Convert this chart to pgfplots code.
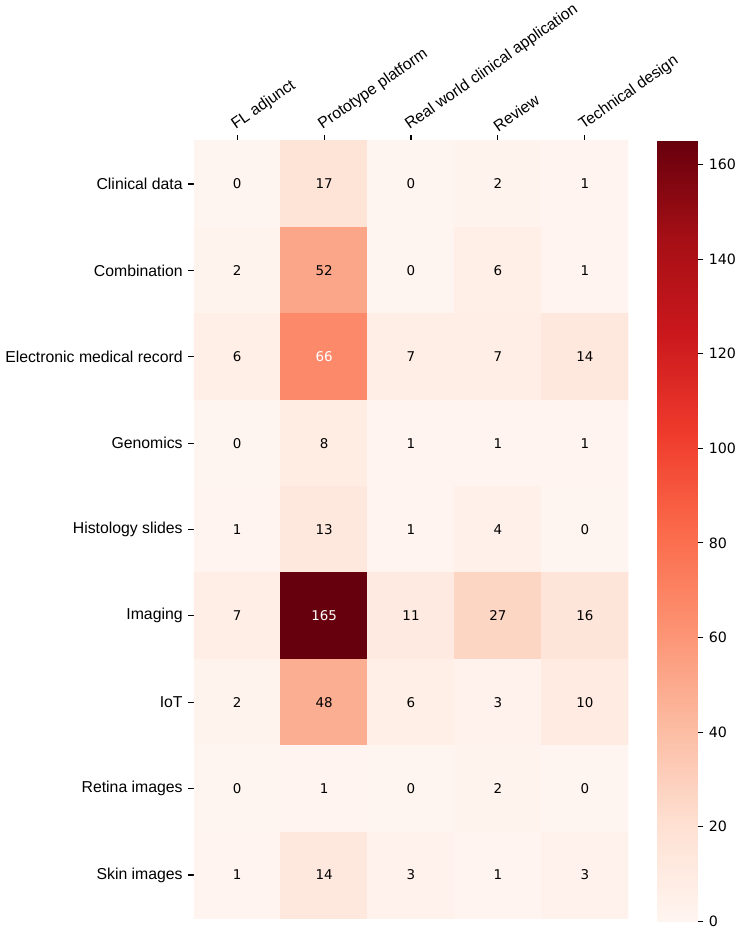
\documentclass[border=0pt]{standalone}
\usepackage{pgfplots}
\pgfplotsset{compat=1.18}
\usepackage{pgfplotstable}
\usepackage{fontspec}
\setmainfont{Liberation Sans}
\newfontfamily\dejavu{DejaVu Sans}

% matplotlib "Reds"
\pgfplotsset{colormap={reds}{rgb255=(255,245,240) rgb255=(254,224,210)
  rgb255=(252,187,161) rgb255=(252,146,114) rgb255=(251,106,74)
  rgb255=(239,59,44) rgb255=(203,24,29) rgb255=(165,15,21) rgb255=(103,0,13)}}

% x = paper type, y = data source, v = count
\pgfplotstableread{
x y v
0 0 0
1 0 17
2 0 0
3 0 2
4 0 1
0 1 2
1 1 52
2 1 0
3 1 6
4 1 1
0 2 6
1 2 66
2 2 7
3 2 7
4 2 14
0 3 0
1 3 8
2 3 1
3 3 1
4 3 1
0 4 1
1 4 13
2 4 1
3 4 4
4 4 0
0 5 7
1 5 165
2 5 11
3 5 27
4 5 16
0 6 2
1 6 48
2 6 6
3 6 3
4 6 10
0 7 0
1 7 1
2 7 0
3 7 2
4 7 0
0 8 1
1 8 14
2 8 3
3 8 1
4 8 3
}\heat

% colour scale ends
\pgfplotstableread{
x y v
0 0 0
1 0 0
0 165 165
1 165 165
}\scale

\begin{document}
\begin{tikzpicture}
\begin{axis}[
  name=main,
  scale only axis, width=275pt, height=492pt,
  colormap name=reds,
  xmin=-0.5, xmax=4.5, ymin=-0.5, ymax=8.5, y dir=reverse,
  enlargelimits=false,
  axis line style={draw=none},
  xtick={0,...,4},
  xticklabels={FL adjunct, Prototype platform, Real world clinical application, Review, Technical design},
  xtick pos=right, xticklabel pos=right,
  x tick label style={rotate=35, anchor=south west, inner sep=1pt},
  ytick={0,...,8},
  yticklabels={Clinical data, Combination, Electronic medical record, Genomics,
    Histology slides, Imaging, IoT, Retina images, Skin images},
  ytick pos=left,
  tick align=outside, major tick length=3.5pt,
  tick style={black, line width=0.7pt},
  point meta min=0, point meta max=165,
]
\addplot[matrix plot*, mesh/cols=5, point meta=explicit] table[meta=v] {\heat};
\addplot[only marks, mark=none, point meta=explicit symbolic,
  nodes near coords={\ifnum\pgfplotspointmeta>60 \color{white}\fi\pgfplotspointmeta},
  nodes near coords align=center,
  every node near coord/.append style={font=\dejavu\fontsize{8.5}{10}\selectfont, anchor=center},
] table[meta=v] {\heat};
\end{axis}

% colour bar
\begin{axis}[
  at={(main.north east)}, anchor=north west, xshift=18pt,
  scale only axis, width=26pt, height=494pt,
  colormap name=reds,
  xmin=0, xmax=1, ymin=0, ymax=165, enlargelimits=false,
  axis on top,
  axis line style={draw=none},
  xtick=\empty,
  ytick={0,20,...,160}, ytick pos=right, yticklabel pos=right,
  tick align=outside, major tick length=3.5pt,
  major tick style={black, line width=0.7pt},
  yticklabel style={font=\dejavu\fontsize{9}{10}\selectfont},
  /pgf/number format/assume math mode=true,
  point meta min=0, point meta max=165,
]
\addplot[surf, shader=interp, mesh/rows=2, point meta=explicit] table[meta=v] {\scale};
\end{axis}
\end{tikzpicture}
\end{document}
